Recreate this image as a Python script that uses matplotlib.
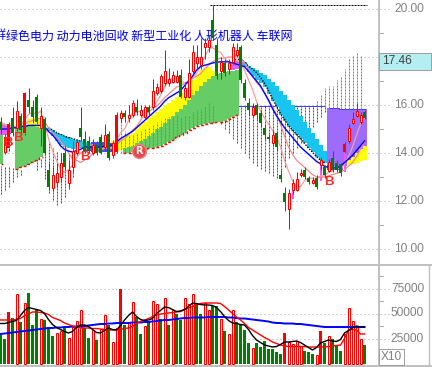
import numpy as np
import matplotlib
matplotlib.use("Agg")
import matplotlib.pyplot as plt
import matplotlib.transforms as mtransforms
from matplotlib.patches import Rectangle
from matplotlib.lines import Line2D

# ---------------- data ----------------
opens = [15.3, 14.05, 14.2, 15.45, 15.05, 15.55, 14.85, 16.2, 15.9, 16.35,
         15.05, 15.4, 13.3, 12.55, 12.8, 13.0, 14.0, 12.75, 13.4, 14.0,
         15.05, 14.6, 14.5, 14.0, 14.35, 14.67, 14.25, 14.8, 13.9, 14.05,
         15.45, 15.67, 15.46, 15.6, 15.9, 15.6, 15.5, 15.9, 15.9, 16.5,
         16.6, 16.9, 16.9, 16.95, 16.95, 17.25, 16.35, 16.35, 17.4, 17.75,
         17.67, 18.4, 18.4, 19.55, 18.5, 17.4, 17.75, 17.5, 17.8, 18.1,
         18.4, 16.9, 16.1, 15.6, 16.0, 15.65, 15.05, 14.67, 14.42, 14.83,
         13.1, 12.35, 11.65, 12.45, 12.45, 13.1, 13.3, 12.95, 12.75, 12.95,
         13.5, 13.42, 13.25, 13.8, 13.6, 13.55, 14.05, 14.5, 15.25, 15.55,
         15.3, 15.7]
closes = [14.95, 14.65, 15.2, 14.85, 15.75, 14.95, 16.5, 15.9, 15.5, 15.3,
          15.55, 14.0, 12.6, 13.1, 13.15, 13.6, 13.4, 13.3, 14.1, 14.45,
          14.65, 14.1, 14.1, 14.35, 14.0, 14.0, 14.75, 13.8, 14.4, 15.6,
          15.65, 15.5, 15.6, 16.1, 15.7, 15.8, 15.9, 15.7, 16.6, 16.75,
          17.2, 17.4, 17.1, 17.25, 17.2, 16.35, 16.7, 17.33, 18.2, 18.0,
          18.0, 18.6, 18.7, 18.8, 17.2, 17.8, 17.35, 17.75, 18.4, 18.3,
          17.05, 16.3, 15.8, 15.9, 15.6, 15.25, 14.75, 14.6, 14.75, 14.25,
          12.9, 11.95, 12.35, 12.75, 12.9, 13.17, 13.0, 12.8, 12.88, 12.6,
          13.7, 13.1, 13.62, 13.3, 13.3, 13.15, 14.38, 15.05, 15.42, 15.75,
          15.6, 15.45]
highs = [15.5, 14.8, 15.3, 15.9, 16.15, 15.65, 16.55, 16.7, 16.2, 16.45,
         15.9, 15.5, 13.6, 13.4, 13.6, 14.0, 14.3, 13.7, 14.5, 14.6,
         15.9, 14.9, 14.7, 14.6, 14.5, 14.8, 15.2, 14.9, 14.55, 15.7,
         15.8, 15.8, 16.0, 16.2, 16.25, 16.0, 16.0, 16.0, 17.1, 16.9,
         17.3, 18.3, 17.55, 17.4, 17.45, 17.5, 16.95, 17.9, 18.5, 18.5,
         18.8, 18.8, 18.9, 20.17, 18.8, 18.0, 17.9, 17.9, 18.6, 18.6,
         18.5, 17.1, 16.3, 16.1, 16.1, 15.8, 15.2, 14.8, 14.95, 14.9,
         13.3, 12.6, 12.5, 12.9, 13.2, 13.35, 13.4, 13.05, 13.0, 13.1,
         13.85, 13.5, 13.75, 14.1, 13.7, 13.6, 14.45, 15.2, 15.7, 16.1,
         15.7, 15.8]
lows = [14.8, 13.95, 14.1, 14.7, 14.9, 14.8, 14.75, 15.65, 15.25, 15.2,
        14.3, 13.9, 12.45, 12.4, 12.6, 12.8, 13.3, 12.6, 13.2, 13.9,
        14.5, 14.0, 14.0, 13.9, 13.9, 13.95, 14.1, 13.7, 13.8, 14.0,
        15.3, 15.3, 15.3, 15.5, 15.6, 15.5, 15.4, 15.6, 15.8, 16.4,
        16.5, 16.8, 16.8, 16.9, 16.9, 16.3, 16.2, 16.3, 17.3, 17.5,
        17.5, 17.9, 18.2, 18.7, 17.1, 17.1, 17.2, 17.3, 17.7, 18.0,
        16.9, 16.2, 15.6, 15.5, 15.4, 15.1, 14.6, 14.5, 14.3, 14.1,
        12.8, 11.6, 10.85, 12.3, 12.4, 13.0, 12.9, 12.7, 12.7, 12.5,
        13.3, 12.95, 13.2, 13.2, 13.2, 13.05, 14.0, 14.4, 15.2, 15.5,
        15.2, 15.4]
solid_red_candles = [2, 6, 29, 86]

volume = [28500, 24500, 52000, 46000, 69500, 42000, 60500, 71000, 38500, 54500,
          44500, 43500, 37000, 27500, 31000, 33000, 36000, 26000, 37000, 42500,
          54000, 36000, 26000, 33500, 23500, 34500, 48500, 39000, 21500, 36000,
          74500, 38500, 42000, 62000, 47000, 29500, 37500, 42000, 63000, 59500,
          45000, 66000, 38500, 53500, 50000, 44000, 66000, 59500, 69500, 60000,
          50000, 61000, 53500, 58000, 57500, 44500, 33000, 29500, 53500, 42000,
          39000, 33500, 21000, 16000, 21000, 17000, 23000, 15000, 14500, 12000,
          9500, 31000, 22000, 20000, 23000, 17500, 13000, 12000, 10000, 9000,
          32500, 21000, 27500, 24500, 18000, 12500, 29500, 56000, 43000, 37000,
          25000, 19000]
vol_kind = ("ggRgrgrggg" "rgggrrgrrr" "rggrgrrgrr" "Rgrrggrgrr" "grgrggrrrg"
            "grrggrgrrg" "gggrgggggg" "gRrrrrgggr" "Rgrgggrrrr" "rg")

vol_ma_fast = [40, 40, 41, 42, 43, 48, 53, 56, 55, 54, 53, 50, 44, 39, 36, 34, 32, 30.5, 32, 36,
               38.5, 38.5, 37, 34, 31, 30.5, 33, 35.5, 34, 33.5, 38, 43.5, 48, 51.5, 47, 44, 43, 43.5, 45, 50,
               53, 56.5, 56, 54, 52, 52.5, 54, 57, 60.5, 60, 59, 58.5, 58.5, 58, 56, 52, 47, 43, 40.5, 40,
               39, 38.5, 34, 28, 23.5, 21, 18.5, 17.5, 16.5, 17, 19, 21.5, 21.5, 22, 22.5, 21, 18.5, 16, 13.5, 16,
               20.5, 22, 23.5, 22.5, 22, 24, 30.5, 33, 35.5, 37.5, 36.5, 36.5]
vol_ma_mid = [43.5, 43.5, 43.5, 43.5, 44, 45, 48, 49.5, 51.5, 51.5, 51, 50.5, 49, 46, 44.5, 43, 40.5, 39, 37.5, 36.5,
              36, 35.5, 35.5, 35, 35, 34.5, 34, 33.5, 33.5, 33.5, 34, 35, 35.5, 37, 40.5, 42, 43.5, 45, 47, 48.5,
              49.5, 50, 50.5, 51, 51.5, 52, 54, 55.5, 57, 58.5, 60, 60.5, 60.5, 60.5, 60.5, 60, 57, 53.5, 50, 46.5,
              43.5, 40, 36, 33.5, 31, 28.5, 26, 24, 21.5, 20, 18.5, 17.5, 17, 17, 17, 17, 17, 16.5, 16.5, 16.5,
              16.5, 16.5, 17, 17.5, 18, 18.5, 25, 33.5, 34, 33.5, 29.5, 29.5]
vol_ma_slow = [29.5, 30, 30.5, 31, 31.5, 32, 32.5, 33, 33.5, 34, 34.5, 35, 35.5, 35.5, 36, 36, 36.5, 36.5, 37, 37,
               37.5, 37.5, 38, 38.5, 39, 39.5, 39.5, 40, 40, 40.5, 40.5, 40.5, 40.5, 41, 41, 41, 41.5, 41.5, 42, 42.5,
               43, 43.5, 43.5, 44, 44.5, 45, 45.5, 45.5, 46, 46, 46, 46, 46.5, 46.5, 46.5, 46.5, 46.5, 46, 46, 45.5,
               45, 45, 44.5, 44, 43.5, 43, 42.5, 42, 41, 40.5, 40.5, 40, 40, 40, 39.5, 39.5, 39, 38.5, 38, 37.5,
               37, 36.5, 36.5, 36.5, 36.5, 36.5, 36.5, 36.5, 36.5, 36.5, 36.5, 36.5]

ma_blue = [15.0, 15.0, 15.0, 15.05, 15.05, 15.1, 15.1, 15.15, 15.15, 15.15,
           15.15, 15.1, 14.9, 14.75, 14.55, 14.3, 14.15, 14.08, 14.04, 14.1,
           14.15, 14.25, 14.25, 14.25, 14.25, 14.25, 14.28, 14.3, 14.33, 14.45,
           14.6, 14.7, 14.8, 14.9, 15.05, 15.2, 15.35, 15.5, 15.65, 15.8,
           15.95, 16.15, 16.3, 16.4, 16.5, 16.6, 16.8, 17.0, 17.2, 17.45,
           17.6, 17.65, 17.7, 17.75, 17.78, 17.8, 17.8, 17.8, 17.75, 17.7,
           17.65, 17.6, 17.4, 17.2, 17.0, 16.8, 16.5, 16.2, 15.85, 15.55,
           15.3, 15.05, 14.85, 14.65, 14.45, 14.25, 14.1, 13.95, 13.8, 13.65,
           13.55, 13.45, 13.4, 13.38, 13.38, 13.45, 13.6, 13.75, 13.9, 14.1,
           14.3, 14.5]
ma_pink_fast = [15.3, 15.2, 15.1, 15.0, 15.1, 15.1, 15.4, 15.6, 15.7, 15.6,
                15.75, 15.25, 14.6, 14.1, 13.7, 13.3, 13.2, 13.3, 13.5, 13.8,
                14.0, 14.1, 14.25, 14.35, 14.25, 14.1, 14.25, 14.2, 14.2, 14.5,
                14.85, 15.0, 15.35, 15.7, 15.7, 15.75, 15.8, 15.85, 15.95, 16.1,
                16.4, 16.75, 17.0, 17.15, 17.2, 17.05, 16.9, 16.95, 17.15, 17.3,
                17.65, 18.0, 18.3, 18.4, 18.25, 18.2, 17.95, 17.8, 17.7, 17.9,
                17.75, 17.45, 17.05, 16.65, 16.15, 15.75, 15.45, 15.2, 14.95, 14.7,
                14.25, 13.7, 13.25, 12.85, 12.55, 12.6, 12.85, 12.95, 12.95, 12.9,
                13.05, 13.05, 13.2, 13.25, 13.5, 13.3, 13.55, 13.85, 14.25, 14.75,
                15.2, 15.45]
ma_pink_slow = [15.2, 15.2, 15.15, 15.1, 15.1, 15.1, 15.2, 15.3, 15.35, 15.4,
                15.45, 15.3, 15.05, 14.85, 14.65, 14.5, 14.3, 14.0, 13.75, 13.7,
                13.6, 13.7, 13.8, 13.95, 14.05, 14.1, 14.2, 14.2, 14.25, 14.35,
                14.5, 14.6, 14.75, 14.95, 15.1, 15.35, 15.6, 15.7, 15.85, 15.95,
                16.1, 16.3, 16.45, 16.6, 16.75, 16.8, 16.9, 17.0, 17.1, 17.2,
                17.3, 17.5, 17.65, 17.8, 17.9, 17.95, 17.95, 18.0, 18.0, 18.05,
                17.95, 17.75, 17.5, 17.2, 16.95, 16.75, 16.5, 16.2, 15.9, 15.6,
                15.2, 14.7, 14.25, 13.95, 13.7, 13.55, 13.4, 13.25, 13.1, 13.0,
                13.0, 13.0, 13.05, 13.1, 13.15, 13.2, 13.3, 13.45, 13.6, 13.85,
                14.15, 14.45]

_ = None
cyan_top = [_]*12 + [15.05, 14.95, 14.85, 14.78, 14.7, 14.65, 14.6, 14.55, 14.5, 14.45, 14.42] + [_]*37 + \
    [17.9, 17.8, 17.62, 17.55, 17.46, 17.35, 17.25, 17.1, 16.96, 16.8, 16.6, 16.4, 16.2, 16.0, 15.8,
     15.55, 15.3, 15.05, 14.83, 14.6, 14.33, 14.1] + [_]*10
cyan_bot = [_]*12 + [14.9, 14.7, 14.5, 14.35, 14.25, 14.2, 14.15, 14.15, 14.2, 14.25, 14.3] + [_]*37 + \
    [17.85, 17.6, 17.38, 17.2, 17.04, 16.9, 16.75, 16.45, 16.15, 15.9, 15.6, 15.35, 15.1, 14.9, 14.75,
     14.6, 14.4, 14.2, 14.04, 13.85, 13.7, 13.6] + [_]*10
black_line = [_]*12 + [15.05, 14.95, 14.85, 14.78, 14.7, 14.65, 14.6, 14.55, 14.5] + [_]*37 + \
    [17.85, 17.9, 17.9, 17.8, 17.62, 17.5, 17.35, 17.15, 16.9, 16.6, 16.25, 15.95, 15.65, 15.4, 15.15,
     14.95, 14.78, 14.6, 14.4, 14.2, 14.04, 13.85, 13.7, 13.6] + [_]*10
violet_top = [_]*21 + [14.4, 14.42, 14.44, 14.45, 14.45, 14.44, 14.42, 14.4] + [_]*53 + [13.55, 13.55, 13.52, 13.5] + [_]*6
violet_bot = [_]*21 + [14.1, 14.08, 14.05, 14.05, 14.05, 14.05, 14.05, 14.05] + [_]*53 + [13.3, 13.28, 13.28, 13.3] + [_]*6
green_top = [14.85] + [_]*3 + [15.1, 15.1, 15.12, 15.12, 15.12, 15.1, 15.05] + [_]*20 + \
    [14.2, 14.25, 14.3, 14.4, 14.5, 14.6, 14.72, 14.85, 14.98, 15.1, 15.25, 15.4, 15.55, 15.7, 15.85,
     16.0, 16.2, 16.4, 16.6, 16.8, 16.95, 17.1, 17.2, 17.3, 17.33, 17.36, 17.4, 17.43, 17.45] + [_]*32
green_bot = [13.55] + [_]*3 + [13.35, 13.4, 13.47, 13.55, 13.63, 13.72, 13.82] + [_]*20 + \
    [14.0, 14.02, 14.05, 14.08, 14.12, 14.15, 14.2, 14.22, 14.25, 14.3, 14.38, 14.45, 14.55, 14.65, 14.75,
     14.85, 14.95, 15.05, 15.12, 15.17, 15.2, 15.23, 15.25, 15.28, 15.3, 15.35, 15.42, 15.5, 15.58] + [_]*32
yellow_top = [_]*7 + [15.4, 15.45, 15.45, 15.4] + [_]*17 + \
    [14.5, 14.55, 14.6, 14.68, 14.75, 14.85, 15.0, 15.15, 15.3, 15.45, 15.6, 15.72, 15.85, 15.98, 16.1,
     16.22, 16.35, 16.5, 16.65, 16.85, 17.05, 17.25, 17.45, 17.55, 17.6, 17.4] + [_]*32 + \
    [13.45, 13.7, 13.85, 14.0, 14.15, 14.3]
yellow_bot = [_]*7 + [15.12, 15.12, 15.1, 15.05] + [_]*17 + \
    [14.04, 14.08, 14.12, 14.2, 14.25, 14.3, 14.4, 14.5, 14.6, 14.72, 14.85, 14.98, 15.1, 15.25, 15.4,
     15.55, 15.7, 15.85, 16.0, 16.2, 16.4, 16.6, 16.8, 16.95, 17.1, 17.2] + [_]*32 + \
    [13.45, 13.5, 13.55, 13.6, 13.65, 13.7]
purple_top = [_]*82 + [15.88, 15.87, 15.86, 15.85, 15.85, 15.84, 15.84, 15.83, 15.83, 15.82]
purple_bot = [_]*82 + [13.5, 13.4, 13.35, 13.35, 13.45, 13.7, 13.85, 14.0, 14.15, 14.3]
magenta_top = [15.2, 15.15, 15.1] + [_]*55 + [17.75, 17.85, 17.8] + [_]*31
magenta_bot = [14.75, 14.75, 14.8] + [_]*55 + [17.45, 17.5, 17.6] + [_]*31
red_dot_lo = [_]*29 + [13.98, 14.0, 14.0, 14.02, 14.05, 14.08, 14.12, 14.15, 14.2, 14.22, 14.25, 14.3, 14.38,
                       14.45, 14.55, 14.65, 14.75, 14.85, 14.95, 15.05, 15.12, 15.17, 15.2, 15.23, 15.25] + [_]*25 + \
    [15.95, 15.95, 15.9, 15.88, 15.87, 15.86, 15.85, 15.85, 15.84, 15.84, 15.83, 15.83] + [_]
red_dot_hi = [_]*29 + [15.5, 15.4, 14.9, 14.7, 14.8, 14.8, 14.9, 15.0, 15.1, 15.2, 15.3, 15.35, 15.5, 15.5,
                       15.55, 15.6, 15.5, 15.55, 15.6, 15.7, 15.8, 15.85, 15.95, 16.1, 16.0] + [_]*25 + \
    [16.2, 16.4, 16.7, 16.8, 16.8, 17.05, 17.15, 17.5, 17.95, 18.1, 18.2, 18.1] + [_]
blue_dot_hi = [13.45, 13.4, 13.4, 13.4, 13.3, 13.3] + [_]*3 + \
    [13.75, 13.8, 14.6, 14.5, 14.2, 14.1, 14.05, 13.9, 13.95, 13.9] + [_]*35 + \
    [15.96, 15.96, 15.96, 15.96, 15.96, 15.96, 15.96, 15.96, 15.96, 15.96, 15.96, 15.96, 15.96, 15.96,
     15.96, 15.96, 15.96, 15.96, 15.96, 15.96, 15.96, 15.96, 15.96, 15.96, 15.96, 15.96, 15.96, 15.96] + [_]*10
blue_dot_lo = [12.3, 12.45, 12.6, 12.8, 13.0, 13.1] + [_]*3 + \
    [13.3, 13.4, 12.9, 12.35, 12.05, 11.85, 11.9, 12.15, 12.5, 13.0] + [_]*35 + \
    [15.5, 15.2, 15.0, 14.85, 14.6, 14.4, 14.2, 14.0, 13.8, 13.6, 13.45, 13.35, 13.25, 13.15, 13.05,
     12.95, 12.9, 13.4, 13.8, 14.0, 14.2, 14.4, 14.6, 14.85, 15.1, 15.3, 15.5, 15.7] + [_]*10
pink_dot_idx = [73, 80, 86]
pink_dot_hi = [12.42, 13.45, 14.0]
pink_dot_lo = [12.1, 12.85, 13.2]

b_signal_x = [1.9, 4.4, 21.1, 82.1]
b_signal_p = [14.42, 14.63, 13.85, 12.81]
r_signal_x = 34.6
r_signal_p = 14.1
max_price = 20.17
max_index = 53
last_tag = "17.46"
price_ticks = [10, 12, 14, 16, 18, 20]
price_labels = ["10.00", "12.00", "14.00", "16.00", "", "20.00"]   # 18.00 hidden by the tag
price_minor = [11, 13, 15, 17, 19]
vol_ticks = [25000, 50000, 75000]
vol_minor = [12500, 37500, 62500, 87500]
concepts = "绿色电力 动力电池回收 新型工业化 人形机器人 车联网"

# ---------------- drawing ----------------
def arr(v):
    return np.array([np.nan if a is None else a for a in v], float)

opens, closes, highs, lows = map(arr, (opens, closes, highs, lows))
volume = arr(volume)
N = len(closes)
xs = np.arange(N)

W, H, DPI = 432, 367, 100
fig = plt.figure(figsize=(W / DPI, H / DPI), dpi=DPI)
fig.patch.set_facecolor("white")
AXR = 379


def fy(py):
    return 1 - py / H


ax = fig.add_axes([0, fy(265), AXR / W, 265 / H])
axv = fig.add_axes([0, fy(365), AXR / W, 99 / H])
for a in (ax, axv):
    a.set_xlim(-0.125, AXR / 4 - 0.125)
    a.set_axis_off()
ax.set_ylim(10 - 16 / 24, 10 + 249 / 24)
axv.set_ylim(-1500, 97500)

RED = "#ff0000"
GREEN = "#008000"
GRID = "#a8a8a8"
LW = 0.72  # 1 pixel
DOT_BLUE = "#3c3cff"   # tone of the 1-px blue dotted columns
DOT_RED = "#ff4848"    # tone of the 1-px red dotted columns


def band(a, top, bot, color, z):
    top, bot = arr(top), arr(bot)
    ok = np.isfinite(top) & np.isfinite(bot)
    xx = np.column_stack([xs - 0.5, xs + 0.5]).ravel()
    t = np.repeat(np.where(ok, top, 0), 2)
    b = np.repeat(np.where(ok, bot, 0), 2)
    a.fill_between(xx, b, t, where=np.repeat(ok, 2), color=color, lw=0, zorder=z)


# grid lines (extend a little into the label area)
for p in price_ticks:
    ax.axhline(p, xmin=0, xmax=392 / AXR, color=GRID, lw=LW, ls=(0, (1, 3)),
               clip_on=False, zorder=0.3)
for v in vol_ticks:
    axv.axhline(v, xmin=0, xmax=392 / AXR, color=GRID, lw=LW, ls=(0, (1, 3)),
                clip_on=False, zorder=0.3)
tp = mtransforms.blended_transform_factory(ax.transAxes, ax.transData)
tv = mtransforms.blended_transform_factory(axv.transAxes, axv.transData)
for p in price_minor:
    ax.plot([1, 1 + 4 / AXR], [p, p], transform=tp, color=GRID, lw=LW, clip_on=False)
for v in vol_minor:
    axv.plot([1, 1 + 4 / AXR], [v, v], transform=tv, color=GRID, lw=LW, clip_on=False)
for p, lab in zip(price_ticks, price_labels):
    if lab:
        ax.text(424 / AXR, p, lab, transform=tp, ha="right", va="center",
                color="#808080", fontsize=8.6, family="Liberation Sans", clip_on=False)
for v in vol_ticks:
    axv.text(424 / AXR, v, f"{v}", transform=tv, ha="right", va="center",
             color="#808080", fontsize=8.6, family="Liberation Sans", clip_on=False)

# blue dotted columns (behind bands)
bh, bl = arr(blue_dot_hi), arr(blue_dot_lo)
m = np.isfinite(bh)
c1 = ax.vlines(xs[m], bl[m], bh[m], colors=DOT_BLUE, lw=LW, linestyles=[(0, (2, 1))], zorder=0.8)
c1.set_snap(True)
ax.plot(xs[54:82], bh[54:82], color=DOT_BLUE, lw=LW, drawstyle="steps-mid", zorder=0.8)

# colour bands
band(ax, green_top, green_bot, "#66cc66", 1.0)
band(ax, yellow_top, yellow_bot, "#ffff00", 1.1)
band(ax, magenta_top, magenta_bot, "#e060f0", 1.2)
band(ax, violet_top, violet_bot, "#4a4cf0", 1.2)
band(ax, cyan_top, cyan_bot, "#18c4f0", 1.3)
band(ax, purple_top, purple_bot, "#9d6cff", 1.3)
pt = arr(purple_top)
ax.plot(xs[82:], pt[82:], color=DOT_BLUE, lw=LW, drawstyle="steps-mid", zorder=1.4)

# red dotted columns
rh, rl = arr(red_dot_hi), arr(red_dot_lo)
m = np.isfinite(rh)
c2 = ax.vlines(xs[m], rl[m], rh[m], colors=DOT_RED, lw=LW, linestyles=[(0, (2, 1))], zorder=2)
c2.set_snap(True)
ax.plot(xs, arr(green_bot), color=RED, lw=1.0, ls=(0, (2, 2)), drawstyle="steps-mid", zorder=2)
ax.plot(xs, arr(black_line), color="black", lw=1.0, ls=(0, (1, 1)), zorder=2.5)
ax.vlines([xs[i] for i in pink_dot_idx], pink_dot_lo, pink_dot_hi, colors="#ff50ff",
          lw=1.4, zorder=2.5)

# moving averages
ax.plot(xs, arr(ma_pink_slow), color="#f08a8a", lw=0.9, zorder=4)
ax.plot(xs, arr(ma_pink_fast), color="#f4a0a0", lw=0.9, zorder=4)
ax.plot(xs, arr(ma_blue), color="#0000ff", lw=1.0, zorder=4.2)

# concept text (behind the candles)
ax.text(6 / W, fy(36), concepts, transform=fig.transFigure, va="center", ha="left",
        fontsize=8.64, color="#0000e0", family=["Noto Sans CJK SC", "DejaVu Sans"],
        zorder=4.5, clip_on=False)
ax.text(-6.8 / W, fy(36), "群", transform=fig.transFigure, va="center", ha="left",
        fontsize=8.64, color="#0000e0", family=["Noto Sans CJK SC", "DejaVu Sans"],
        zorder=4.5, clip_on=False)

# candles
up = closes >= opens
solid = np.zeros(N, bool)
solid[solid_red_candles] = True
blo = np.minimum(opens, closes)
bhi = np.maximum(opens, closes)
bht = np.maximum(bhi - blo, 0.045)
ax.vlines(xs[up], bhi[up], highs[up], color=RED, lw=LW, zorder=6)
ax.vlines(xs[up], lows[up], blo[up], color=RED, lw=LW, zorder=6)
ax.vlines(xs[~up], lows[~up], highs[~up], color=GREEN, lw=LW, zorder=6)
hol = up & ~solid
ax.bar(xs[hol], bht[hol], bottom=blo[hol], width=0.5, facecolor="white",
       edgecolor=RED, linewidth=LW, zorder=7)
ax.bar(xs[up & solid], bht[up & solid], bottom=blo[up & solid], width=0.75,
       color=RED, linewidth=0, zorder=7)
ax.bar(xs[~up], bht[~up], bottom=blo[~up], width=0.75, color=GREEN, linewidth=0, zorder=7)

# highest price marker
ax.hlines(max_price, max_index - 0.6, N - 0.3, colors="black", lw=LW,
          linestyles=[(0, (2, 1))], zorder=5)

# signals
for bx, bp in zip(b_signal_x, b_signal_p):
    ax.text(bx, bp, "B", color="#ff2a2a", fontsize=9.5, fontweight="bold",
            family="Liberation Sans", ha="center", va="center", zorder=8)
ax.plot(r_signal_x, r_signal_p, "o", ms=10, color="#e44a4a", mec="#f08080", zorder=8)
ax.text(r_signal_x, r_signal_p, "R", color="white", fontsize=7, fontweight="bold",
        ha="center", va="center", zorder=9)

# volume
kinds = np.array(list(vol_kind))
vh = kinds == "r"
vs = kinds == "R"
vg = kinds == "g"
axv.bar(xs[vg], volume[vg], width=0.75, color=GREEN, linewidth=0, zorder=2)
axv.bar(xs[vs], volume[vs], width=0.75, color=RED, linewidth=0, zorder=2)
axv.bar(xs[vh], volume[vh], width=0.5, facecolor="white", edgecolor=RED,
        linewidth=LW, zorder=2)
axv.plot(xs, arr(vol_ma_slow) * 1000, color="#0000ff", lw=1.4, zorder=3)
axv.plot(xs, arr(vol_ma_mid) * 1000, color=RED, lw=1.0, zorder=3)
axv.plot(xs, arr(vol_ma_fast) * 1000, color="black", lw=1.0, zorder=3)

# frame lines
LC = "#c0c0c0"
fig.add_artist(Line2D([AXR / W, AXR / W], [0, 1], color=LC, lw=1.4))
fig.add_artist(Line2D([0, 1], [fy(265), fy(265)], color=LC, lw=1.4))
fig.add_artist(Line2D([0, 1], [fy(365.5), fy(365.5)], color=LC, lw=1.4))
fig.add_artist(Line2D([429 / W, 429 / W], [0, fy(265)], color=LC, lw=1.0))

# last-price tag
fig.add_artist(Rectangle((AXR / W, fy(70)), 52 / W, 17 / H, transform=fig.transFigure,
                         facecolor="#b4eef0", edgecolor="#a0a0a0", lw=LW, zorder=5))
fig.text(382 / W, fy(61.5), last_tag, va="center", ha="left", color="#404040",
         fontsize=8.6, family="Liberation Sans", zorder=6)
# X10 box
fig.add_artist(Rectangle((AXR / W, fy(365)), 25 / W, 16 / H, transform=fig.transFigure,
                         facecolor="white", edgecolor="#a0a0a0", lw=LW, zorder=5))
fig.text(381 / W, fy(357), "X10", va="center", ha="left", color="#808080",
         fontsize=8.6, family="Liberation Sans", zorder=6)

fig.savefig("out.png", dpi=DPI)
